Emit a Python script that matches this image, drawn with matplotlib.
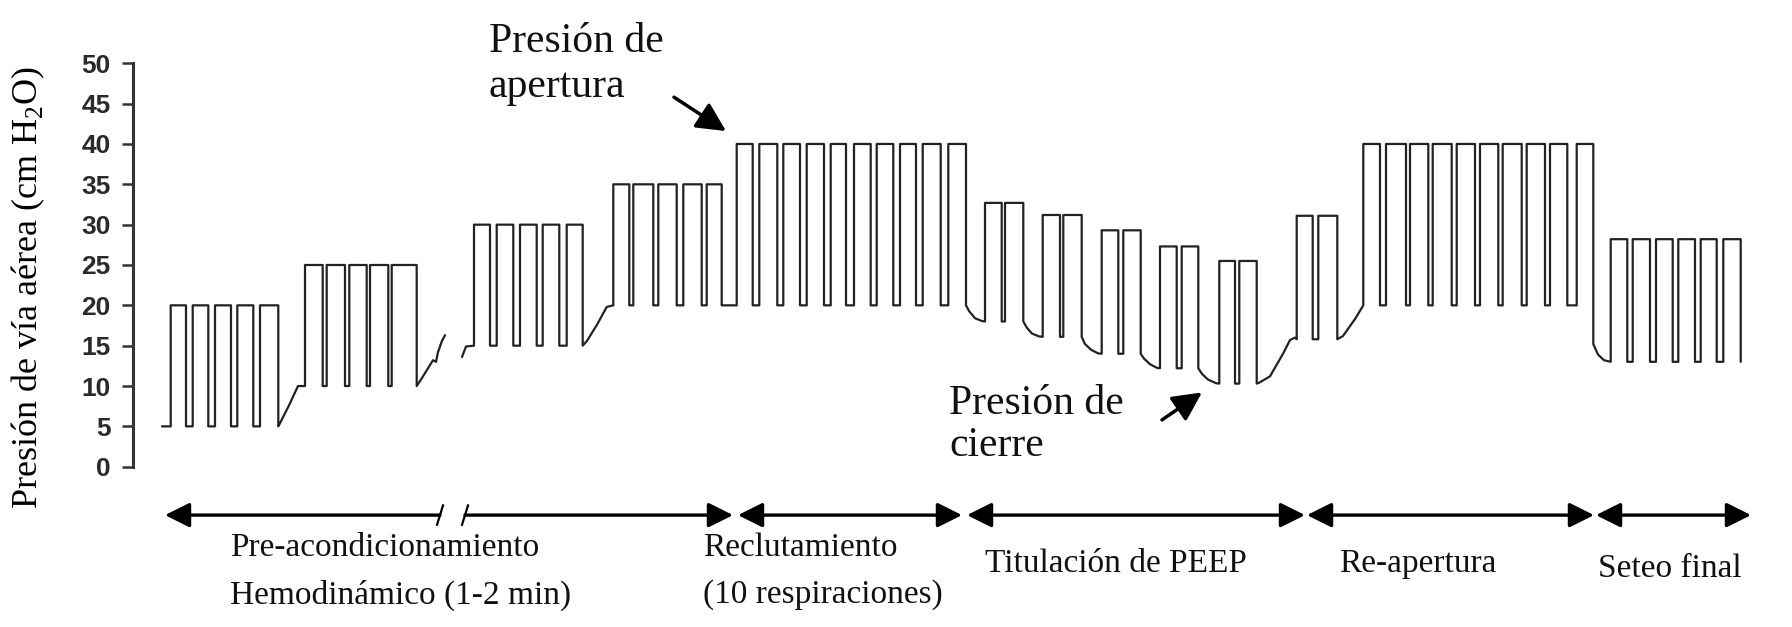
import numpy as np
import matplotlib
matplotlib.use("Agg")
import matplotlib.pyplot as plt
from matplotlib.patches import FancyArrowPatch

plt.rcParams["mathtext.fontset"] = "custom"
plt.rcParams["mathtext.rm"] = "Liberation Serif"

START_T = 2.9
PEAKS = [20, 25, 30, 35, 40, 32.7, 31.2, 29.3, 27.3, 25.5, 31.1, 40, 28.2]
PEEPS = [5, 10, 15, 20, 20, 18.0, 16.1, 14.0, 12.2, 10.3, 15.8, 20, 13.0]
RISES = [
    [3.77, 5.97, 8.2, 10.43, 12.7],
    [17.2, 19.37, 21.63, 23.7, 25.87],
    [34.1, 36.37, 38.7, 40.97, 43.37],
    [48.03, 50.03, 52.53, 55.03, 57.37],
    [60.37, 62.63, 65.03, 67.37, 69.77, 72.1, 74.37, 76.7, 78.97, 81.53],
    [85.2, 87.2],
    [90.97, 93.03],
    [96.87, 99.03],
    [102.7, 104.87],
    [108.63, 110.63],
    [116.37, 118.53],
    [123.03, 125.3, 127.7, 129.97, 132.37, 134.7, 136.97, 139.37, 141.7, 144.37],
    [147.77, 149.97, 152.3, 154.53, 156.77, 159.03],
]
FALLS = [
    [5.3, 7.53, 9.8, 12.03, 14.53],
    [18.97, 21.2, 23.37, 25.53, 28.37],
    [35.7, 38.03, 40.37, 42.63, 44.97],
    [49.63, 52.03, 54.37, 56.87, 58.87],
    [61.97, 64.43, 66.7, 69.1, 71.3, 73.77, 76.03, 78.3, 80.77, 83.3],
    [86.87, 89.03],
    [92.7, 94.87],
    [98.53, 100.77],
    [104.37, 106.53],
    [110.2, 112.37],
    [117.97, 120.43],
    [124.7, 127.3, 129.53, 131.87, 134.2, 136.53, 138.87, 141.2, 143.43, 146.03],
    [149.43, 151.7, 153.97, 156.2, 158.37, 160.77],
]
# pressure between groups (None = break in the trace)
TRANSITIONS = [
    [(14.7, 5.4), (15.6, 7.6), (16.5, 10.0)],
    [(28.9, 11.0), (29.6, 12.4), (30.0, 13.2), (30.3, 13.0), (30.5, 14.2),
     (30.9, 15.6), (31.2, 16.3), None, (32.9, 13.6), (33.3, 14.9)],
    [(45.4, 15.6), (46.4, 17.6), (47.37, 19.8)],
    [],
    [(83.6, 19.3), (84.2, 18.4), (84.9, 18.05)],
    [(89.4, 17.2), (89.9, 16.5), (90.6, 16.15)],
    [(95.2, 15.2), (95.8, 14.5), (96.5, 14.05)],
    [(101.1, 13.4), (101.7, 12.7), (102.4, 12.25)],
    [(106.9, 11.5), (107.5, 10.8), (108.3, 10.35)],
    [(112.6, 10.4), (113.7, 11.2), (115.0, 14.0), (115.7, 15.7), (116.2, 16.0)],
    [(121.0, 16.2), (122.2, 18.3)],
    [(146.03, 15.2), (146.5, 13.9), (147.1, 13.2)],
]

STAGE_SPANS = [(3.2, 60.0), (60.5, 82.9), (83.4, 117.2), (117.4, 146.1), (146.3, 161.8)]
TIME_BREAK = (30.7, 33.2)
STAGE_LABELS = [
    ["Pre-acondicionamiento", "Hemodinámico (1-2 min)"],
    ["Reclutamiento", "(10 respiraciones)"],
    ["Titulación de PEEP"],
    ["Re-apertura"],
    ["Seteo final"],
]
LABEL_X = [9.7, 57.0, 85.2, 120.6, 146.5]
LABEL_Y = [[-10.0, -15.9], [-10.0, -15.9], [-12.0], [-12.0], [-12.6]]

OPEN_TEXT = ["Presión de", "apertura"]
CLOSE_TEXT = ["Presión de", "cierre"]

W, H = 1792, 627
fig = plt.figure(figsize=(W / 100, H / 100), dpi=100)
ax_left = 133 / W
y0 = (H - 466.7) / H
y50 = (H - 63.3) / H
ax = fig.add_axes([ax_left, y0, 1 - ax_left, y50 - y0])
ax.set_xlim(0, (W - 133) / 10)
ax.set_ylim(0, 50)

# waveform
xs, ys = [START_T], [PEEPS[0]]
for i in range(len(PEAKS)):
    for r, f in zip(RISES[i], FALLS[i]):
        xs += [r, r, f, f]
        ys += [PEEPS[i], PEAKS[i], PEAKS[i], PEEPS[i]]
    if i < len(TRANSITIONS):
        for pt in TRANSITIONS[i]:
            if pt is None:
                xs.append(np.nan)
                ys.append(np.nan)
            else:
                xs.append(pt[0])
                ys.append(pt[1])
ax.plot(xs, ys, color="#222222", lw=1.6, solid_joinstyle="round",
        solid_capstyle="round", clip_on=False)

# axes styling
for s in ("top", "right", "bottom"):
    ax.spines[s].set_visible(False)
ax.spines["left"].set_linewidth(2.2)
ax.spines["left"].set_color("#333333")
ax.set_xticks([])
ax.set_yticks(np.arange(0, 51, 5))
ax.tick_params(axis="y", length=8, width=1.8, color="#333333", pad=8,
               labelsize=19, labelcolor="#2a2a2a")
for lab in ax.get_yticklabels():
    lab.set_fontfamily("Liberation Sans")
    lab.set_fontweight("bold")

fig.text(28 / W, 1 - 288 / H, "Presión de vía aérea (cm H$_\\mathrm{2}$O)",
         rotation=90, ha="center", va="center", fontsize=26,
         family="Liberation Serif")

# stage arrows
ARROW_Y = -6.0
astyle = dict(color="black", lw=2.4, mutation_scale=15, shrinkA=0, shrinkB=0,
              clip_on=False)
for i, (a, b) in enumerate(STAGE_SPANS):
    if i == 0:
        ax.add_patch(FancyArrowPatch((a, ARROW_Y), (TIME_BREAK[0], ARROW_Y),
                                     arrowstyle="<|-,head_length=1.0,head_width=0.5", **astyle))
        ax.add_patch(FancyArrowPatch((TIME_BREAK[1], ARROW_Y), (b, ARROW_Y),
                                     arrowstyle="-|>,head_length=1.0,head_width=0.5", **astyle))
        for t in TIME_BREAK:
            ax.plot([t - 0.3, t + 0.3], [ARROW_Y - 1.2, ARROW_Y + 1.2],
                    color="black", lw=1.6, clip_on=False)
    else:
        ax.add_patch(FancyArrowPatch((a, ARROW_Y), (b, ARROW_Y),
                                     arrowstyle="<|-|>,head_length=1.0,head_width=0.5", **astyle))

for lines, x, yl in zip(STAGE_LABELS, LABEL_X, LABEL_Y):
    for txt, y in zip(lines, yl):
        ax.text(x, y, txt, ha="left", va="center", fontsize=24,
                family="Liberation Serif", color="#111111", clip_on=False)

# annotations
for txt, y in zip(OPEN_TEXT, [51.4, 45.8]):
    ax.text(35.6, y, txt, ha="left", va="baseline", fontsize=30,
            family="Liberation Serif", color="#111111", clip_on=False)
for txt, y in zip(CLOSE_TEXT, [6.5, 1.3]):
    ax.text(81.6, y, txt, ha="left", va="baseline", fontsize=30,
            family="Liberation Serif", color="#111111", clip_on=False)

ann = dict(arrowstyle="-|>,head_length=0.8,head_width=0.4", color="black",
           lw=2.5, mutation_scale=22, shrinkA=0, shrinkB=0)
ax.annotate("", xy=(59.3, 41.6), xytext=(54.1, 45.8), arrowprops=ann,
            annotation_clip=False)
ax.annotate("", xy=(106.9, 9.2), xytext=(102.9, 5.8), arrowprops=ann,
            annotation_clip=False)

fig.savefig("out.png", dpi=100)
